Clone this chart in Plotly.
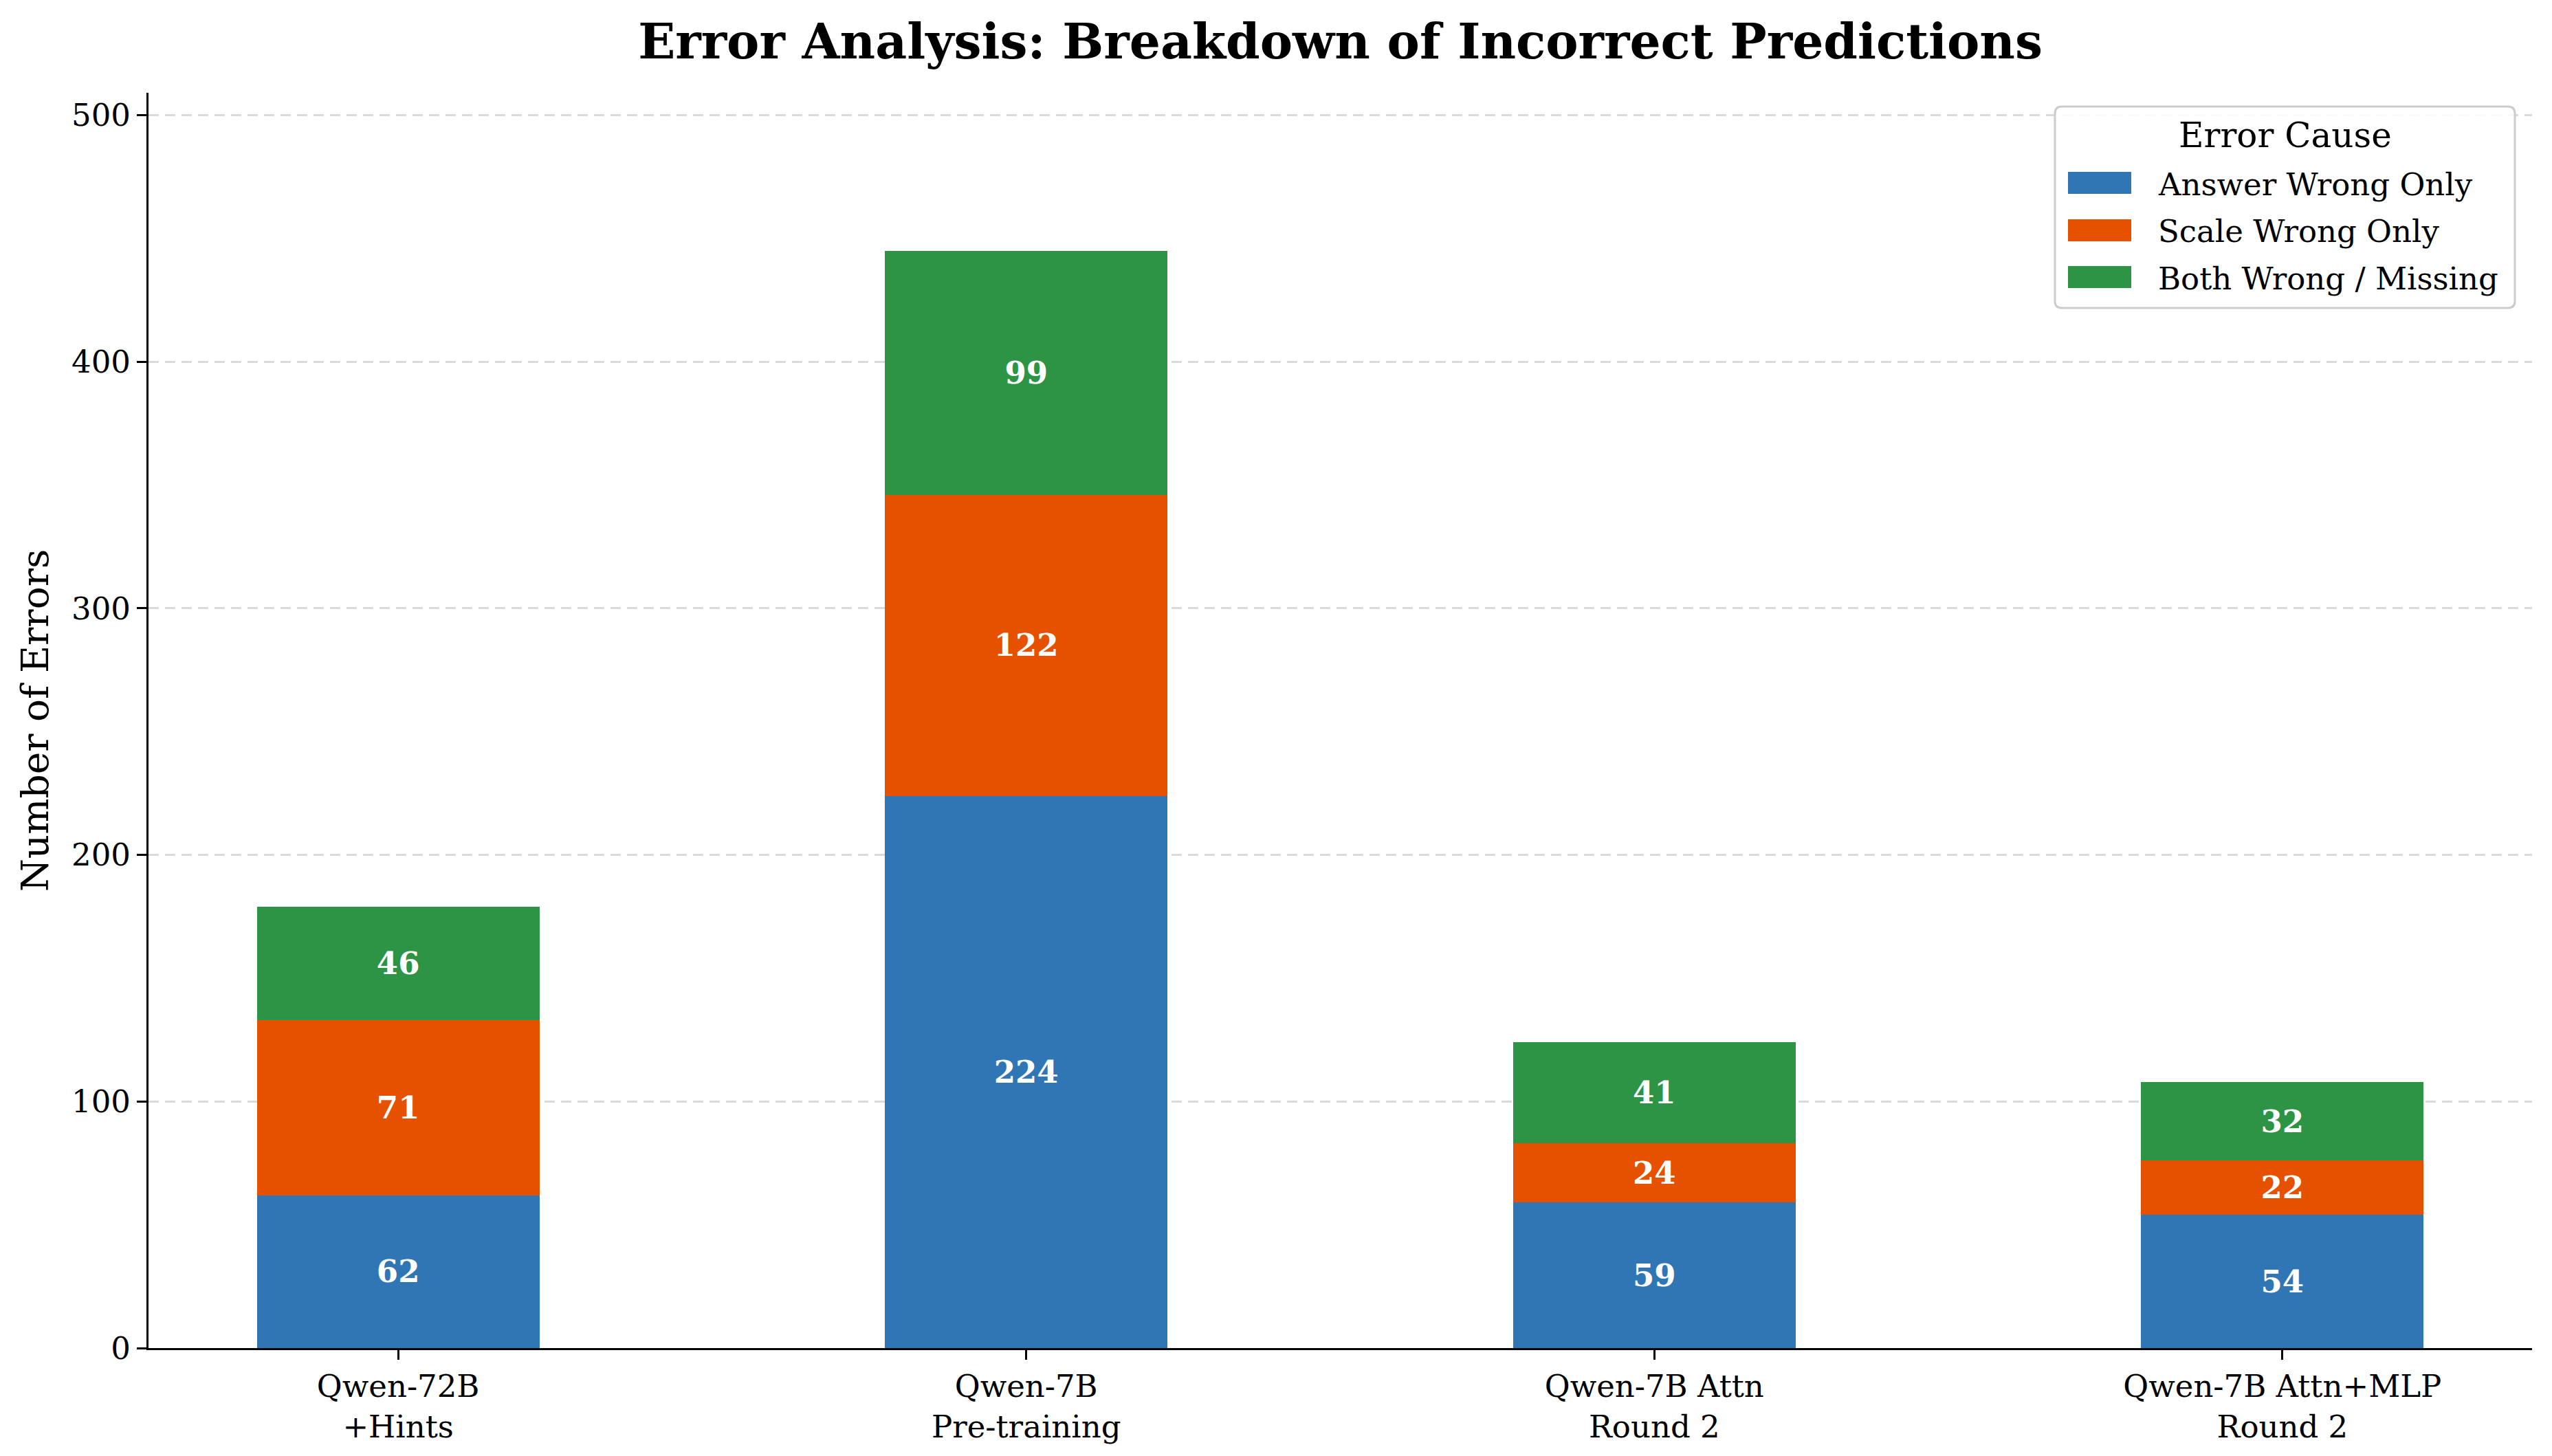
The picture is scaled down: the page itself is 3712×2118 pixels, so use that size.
import plotly.graph_objects as go

# ---- data ----
categories = ["Qwen-72B<br>+Hints", "Qwen-7B<br>Pre-training",
              "Qwen-7B Attn<br>Round 2", "Qwen-7B Attn+MLP<br>Round 2"]
answer_wrong = [62, 224, 59, 54]
scale_wrong = [71, 122, 24, 22]
both_wrong = [46, 99, 41, 32]
series_names = ["Answer Wrong Only", "Scale Wrong Only", "Both Wrong / Missing"]
series_colors = ["#3176B4", "#E65100", "#2C9444"]
y_ticks = [0, 100, 200, 300, 400, 500]

FONT = "DejaVu Serif"
W, H = 3712, 2118
L, R, T, B = 216, 29, 135, 157
PW, PH = W - L - R, H - T - B

def px2paper(x, y):
    return (x - L) / PW, (H - B - y) / PH

fig = go.Figure()
for name, vals, col in zip(series_names, [answer_wrong, scale_wrong, both_wrong], series_colors):
    fig.add_trace(go.Bar(
        x=categories, y=vals, name=name, width=0.45,
        marker=dict(color=col, line=dict(width=0)),
        text=vals, texttemplate="%{text}", textposition="inside",
        insidetextanchor="middle", textangle=0,
        textfont=dict(family=FONT, size=45, color="white", weight="bold"),
        showlegend=False,
    ))

totals = [a + b + c for a, b, c in zip(answer_wrong, scale_wrong, both_wrong)]
ymax = max(totals) * 1.144

fig.update_layout(
    width=W, height=H, barmode="stack",
    margin=dict(l=L, r=R, t=T, b=B),
    paper_bgcolor="white", plot_bgcolor="white",
    font=dict(family=FONT, size=45, color="black"),
    title=dict(text="<b>Error Analysis: Breakdown of Incorrect Predictions</b>",
               font=dict(family=FONT, size=71, color="black"),
               x=0.5, xref="paper", xanchor="center",
               y=1 - 60 / H, yref="container", yanchor="middle"),
)
fig.update_xaxes(
    range=[-0.3975, 3.3975], showline=True, linecolor="black", linewidth=3,
    ticks="outside", ticklen=14, tickwidth=3, tickcolor="black",
    showgrid=False, zeroline=False,
    tickfont=dict(family=FONT, size=45, color="black"),
)
fig.update_yaxes(
    range=[0, ymax], tickvals=y_ticks, showline=True, linecolor="black", linewidth=3,
    ticks="outside", ticklen=14, tickwidth=3, tickcolor="black",
    showgrid=True, gridcolor="#dadada", gridwidth=3, griddash="15px,9px",
    zeroline=False,
    tickfont=dict(family=FONT, size=45, color="black"),
    title=dict(text="Number of Errors", font=dict(family=FONT, size=55, color="black"), standoff=16),
)

# ---- custom legend (matplotlib-style) ----
bx0, by0, bx1, by1 = 2989, 155, 3658, 448
r = 10
X0, Y0 = px2paper(bx0, by0)
X1, Y1 = px2paper(bx1, by1)
rx, ry = r / PW, r / PH
path = (f"M{X0+rx},{Y0} L{X1-rx},{Y0} Q{X1},{Y0} {X1},{Y0-ry} "
        f"L{X1},{Y1+ry} Q{X1},{Y1} {X1-rx},{Y1} L{X0+rx},{Y1} Q{X0},{Y1} {X0},{Y1+ry} "
        f"L{X0},{Y0-ry} Q{X0},{Y0} {X0+rx},{Y0} Z")
fig.add_shape(type="path", path=path, xref="paper", yref="paper",
              line=dict(color="#cccccc", width=3), fillcolor="rgba(255,255,255,0.85)", layer="above")

tx, ty = px2paper((bx0 + bx1) / 2, 197)
fig.add_annotation(x=tx, y=ty, xref="paper", yref="paper", text="Error Cause",
                   showarrow=False, xanchor="center", yanchor="middle",
                   font=dict(family=FONT, size=50, color="black"))
row_centers = [266, 335, 403]
for name, col, yc in zip(series_names, series_colors, row_centers):
    a0, b0 = px2paper(3008, yc - 16)
    a1, b1 = px2paper(3100, yc + 16)
    fig.add_shape(type="rect", xref="paper", yref="paper", x0=a0, x1=a1, y0=b1, y1=b0,
                  fillcolor=col, line=dict(width=0), layer="above")
    lx, ly = px2paper(3137, yc + 2)
    fig.add_annotation(x=lx, y=ly, xref="paper", yref="paper", text=name,
                       showarrow=False, xanchor="left", yanchor="middle",
                       font=dict(family=FONT, size=45, color="black"))

fig.write_html("out.html")
